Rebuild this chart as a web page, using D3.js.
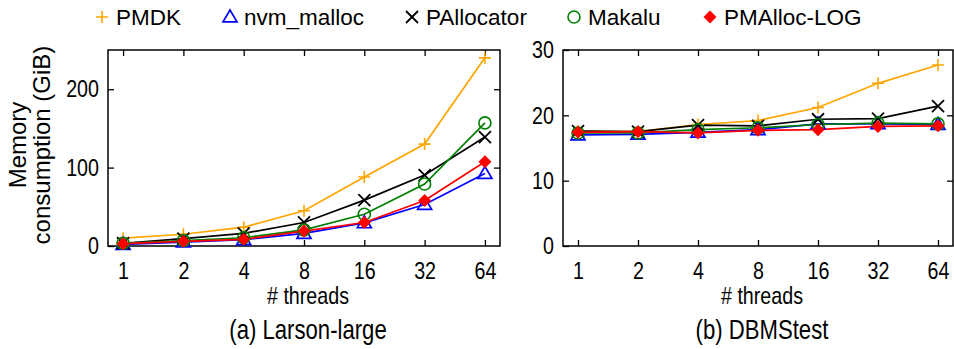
<!DOCTYPE html>
<html>
<head>
<meta charset="utf-8">
<script src="https://cdn.jsdelivr.net/npm/d3@7"></script>
<style>
  body { margin: 0; background: #fff; }
  svg { display: block; font-family: "Liberation Sans", Arial, Helvetica, sans-serif; }
</style>
</head>
<body>
<svg id="chart" width="954" height="349"></svg>
<script>
// Thread counts on the x axis
const threads = ["1", "2", "4", "8", "16", "32", "64"];

// Series names and colours
const seriesNames = ["PMDK", "nvm_malloc", "PAllocator", "Makalu", "PMAlloc-LOG"];
const seriesColors = ["#FFA500", "#0000FF", "#000000", "#008000", "#FF0000"];
const seriesSymbols = ["plus", "triangle", "cross", "circle", "diamond"];

// (a) Larson-large, memory consumption in GiB
const larsonPMDK       = [10, 15, 24, 45, 88, 130, 240];
const larsonNvmMalloc  = [2, 5, 8, 16, 29.5, 53, 92.5];
const larsonPAllocator = [3.5, 9.5, 16, 30, 58.5, 90.5, 139];
const larsonMakalu     = [3.5, 7, 10.5, 20.5, 40.5, 79, 157];
const larsonPMAllocLog = [3, 6, 8.5, 19, 30, 58, 107.5];

// (b) DBMStest, memory consumption in GiB
const dbmsPMDK       = [17.6, 17.5, 18.6, 19.2, 21.2, 24.9, 27.7];
const dbmsNvmMalloc  = [17.0, 17.1, 17.4, 17.8, 18.7, 18.7, 18.6];
const dbmsPAllocator = [17.6, 17.5, 18.5, 18.4, 19.4, 19.5, 21.4];
const dbmsMakalu     = [17.3, 17.3, 17.8, 18.1, 18.6, 18.8, 18.7];
const dbmsPMAllocLog = [17.4, 17.5, 17.3, 17.7, 17.8, 18.3, 18.4];

// Axis ticks and titles
const larsonTicks = [0, 100, 200];
const dbmsTicks = [0, 10, 20, 30];
const larsonMax = 250;
const dbmsMax = 30;
const xTitle = "# threads";
const yTitleLines = ["Memory", "consumption (GiB)"];
const larsonCaption = "(a) Larson-large";
const dbmsCaption = "(b) DBMStest";

// narrow text look: horizontal squeeze applied to labels
const squeeze = 0.82;

const svg = d3.select("#chart");

function symbolPath(type, g, x, y, color) {
  const s = 6;
  if (type === "plus") {
    g.append("path").attr("d", `M${x - s},${y}H${x + s}M${x},${y - s}V${y + s}`)
      .attr("stroke", color).attr("stroke-width", 1.6).attr("fill", "none");
  } else if (type === "cross") {
    g.append("path").attr("d", `M${x - s},${y - s}L${x + s},${y + s}M${x - s},${y + s}L${x + s},${y - s}`)
      .attr("stroke", color).attr("stroke-width", 1.8).attr("fill", "none");
  } else if (type === "triangle") {
    const h = 7;
    g.append("path").attr("d", `M${x},${y - h}L${x + h},${y + h * 0.7}L${x - h},${y + h * 0.7}Z`)
      .attr("stroke", color).attr("stroke-width", 1.7).attr("fill", "none");
  } else if (type === "circle") {
    g.append("circle").attr("cx", x).attr("cy", y).attr("r", 6)
      .attr("stroke", color).attr("stroke-width", 1.6).attr("fill", "none");
  } else if (type === "diamond") {
    const d = 6.5;
    g.append("path").attr("d", `M${x},${y - d}L${x + d},${y}L${x},${y + d}L${x - d},${y}Z`)
      .attr("fill", color).attr("stroke", "none");
  }
}

// text squeezed horizontally around its anchor point
function narrowText(g, x, y, str, size, anchor) {
  return g.append("text")
    .attr("transform", `translate(${x},${y}) scale(${squeeze},1)`)
    .attr("text-anchor", anchor || "middle")
    .attr("font-size", size).text(str);
}

function drawPanel(opts) {
  const { left, right, top, bottom, maxY, ticks, series, caption } = opts;
  const x = d3.scalePoint().domain(threads).range([left, right]).padding(0.25);
  const y = d3.scaleLinear().domain([0, maxY]).range([bottom, top]);
  const g = svg.append("g");
  const tickLen = 6;

  // frame
  g.append("rect").attr("x", left).attr("y", top)
    .attr("width", right - left).attr("height", bottom - top)
    .attr("fill", "none").attr("stroke", "#000").attr("stroke-width", 1.5);

  // axes with inward ticks on all sides
  const bottomAxis = g.append("g").attr("transform", `translate(0,${bottom})`)
    .call(d3.axisBottom(x).tickSize(-tickLen).tickPadding(16));
  const topAxis = g.append("g").attr("transform", `translate(0,${top})`)
    .call(d3.axisTop(x).tickSize(-tickLen).tickFormat(""));
  const leftAxis = g.append("g").attr("transform", `translate(${left},0)`)
    .call(d3.axisLeft(y).tickValues(ticks).tickSize(-tickLen).tickPadding(9));
  const rightAxis = g.append("g").attr("transform", `translate(${right},0)`)
    .call(d3.axisRight(y).tickValues(ticks.filter(t => t > 0 && t < maxY)).tickSize(-tickLen).tickFormat(""));
  [bottomAxis, topAxis, leftAxis, rightAxis].forEach(a => {
    a.select(".domain").remove();
    a.selectAll(".tick line").attr("stroke", "#000").attr("stroke-width", 1.3);
    a.selectAll("text").attr("font-size", "24px").attr("fill", "#000")
      .attr("font-family", "'Liberation Sans', Arial, sans-serif");
  });
  bottomAxis.selectAll(".tick text").attr("transform", `scale(${squeeze},1)`);
  leftAxis.selectAll(".tick text")
    .attr("x", -9 / squeeze).attr("transform", `scale(${squeeze},1)`);

  // lines and markers
  const line = d3.line().x((d, i) => x(threads[i])).y(d => y(d));
  series.forEach((vals, k) => {
    g.append("path").datum(vals).attr("d", line)
      .attr("fill", "none").attr("stroke", seriesColors[k]).attr("stroke-width", 1.7);
  });
  series.forEach((vals, k) => {
    const mg = g.append("g");
    vals.forEach((v, i) => symbolPath(seriesSymbols[k], mg, x(threads[i]), y(v), seriesColors[k]));
  });

  const cx = (left + right) / 2 + 4;
  narrowText(g, cx, bottom + 58, xTitle, "24px");
  narrowText(g, cx, bottom + 93, caption, "27px");
}

drawPanel({
  left: 108, right: 500, top: 50, bottom: 246,
  maxY: larsonMax, ticks: larsonTicks, caption: larsonCaption,
  series: [larsonPMDK, larsonNvmMalloc, larsonPAllocator, larsonMakalu, larsonPMAllocLog]
});
drawPanel({
  left: 563, right: 953, top: 50, bottom: 246,
  maxY: dbmsMax, ticks: dbmsTicks, caption: dbmsCaption,
  series: [dbmsPMDK, dbmsNvmMalloc, dbmsPAllocator, dbmsMakalu, dbmsPMAllocLog]
});

// y axis title
const yt = svg.append("text").attr("transform", "translate(0,145) rotate(-90)")
  .attr("text-anchor", "middle").attr("font-size", "24px");
yt.append("tspan").attr("x", 0).attr("y", 26).text(yTitleLines[0]);
yt.append("tspan").attr("x", 0).attr("y", 50).text(yTitleLines[1]);

// legend
const legendX = [102, 230, 412, 574, 710];
const legend = svg.append("g");
seriesNames.forEach((name, k) => {
  symbolPath(seriesSymbols[k], legend, legendX[k], 17, seriesColors[k]);
  legend.append("text").attr("x", legendX[k] + 14).attr("y", 25)
    .attr("font-size", "22.5px").text(name);
});
</script>
</body>
</html>
